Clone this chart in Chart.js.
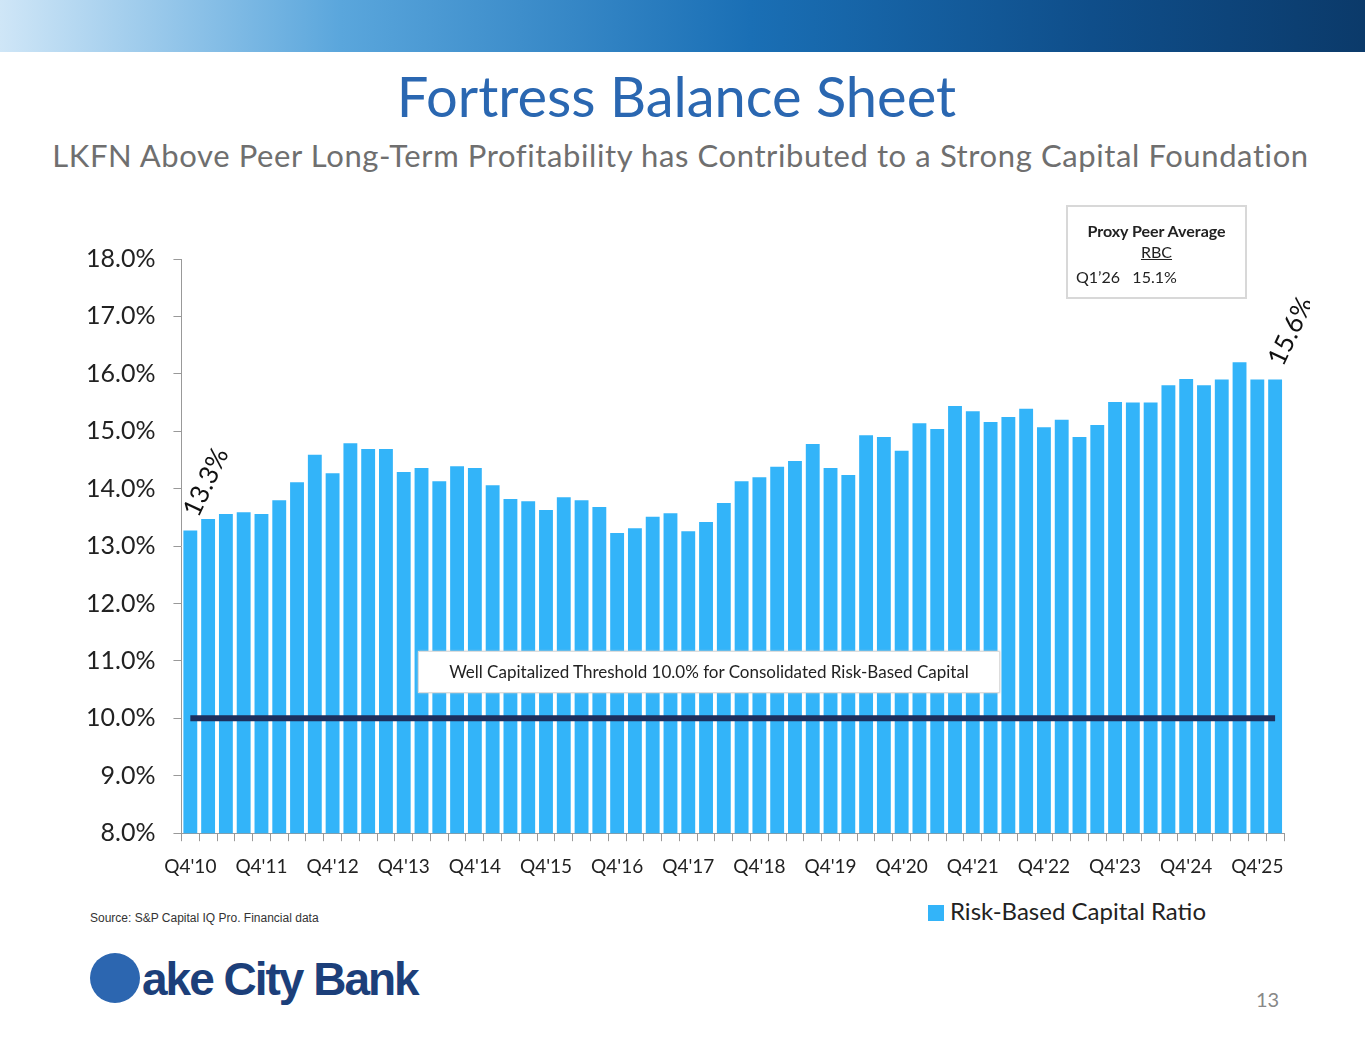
<!DOCTYPE html>
<html><head><meta charset="utf-8">
<script src="https://cdn.jsdelivr.net/npm/chart.js@4"></script>
<style>
body{margin:0;width:1365px;height:1047px;background:#fff;font-family:Lato,"Open Sans",sans-serif;position:relative;overflow:hidden}
.banner{position:absolute;left:0;top:0;width:1365px;height:52px;background:linear-gradient(90deg,#cfe6f7 0%,#5aa6dc 25%,#1a6fb5 55%,#0f4e8a 80%,#0b3a6a 100%)}
.title{position:absolute;top:62px;width:100%;text-align:center;font-size:56px;color:#2a67b1;padding-right:12px;box-sizing:border-box}
.sub{position:absolute;top:136px;width:100%;text-align:center;font-size:31px;color:#6f6f6f;letter-spacing:0.6px;padding-right:4px;box-sizing:border-box}
#wrap{position:absolute;left:68px;top:226px;width:1242px;height:666px}
.peer{position:absolute;left:1066px;top:205px;width:177px;height:90px;border:2px solid #d8d8d8;font-size:16px;color:#222}
.well{position:absolute;left:418px;top:651px;width:580px;height:40px;background:#fff;border:1px solid #ddd;font-size:17px;line-height:40px;text-align:center;color:#222;box-shadow:0 0 2px #ccc}
.src{position:absolute;left:90px;top:911px;font-size:12px;font-family:"Liberation Sans",Arial;color:#333}
.leg{position:absolute;left:928px;top:896px;font-size:24px;color:#222}
.leg span{display:inline-block;width:16px;height:16px;background:#33b4f9;margin-right:6px;vertical-align:-1px}
.logo{position:absolute;left:90px;top:952px;font-size:46px;font-weight:900;color:#1c3f7a;letter-spacing:-2px;font-family:"Liberation Sans",Arial}
.logo i{display:inline-block;width:50px;height:50px;border-radius:50%;background:#2c66b0;vertical-align:-8px;margin-right:2px}
.pg{position:absolute;left:1256px;top:987px;font-size:20px;color:#888}
</style></head><body>
<div class="banner"></div>
<div class="title">Fortress Balance Sheet</div>
<div class="sub">LKFN Above Peer Long-Term Profitability has Contributed to a Strong Capital Foundation</div>
<div id="wrap"><canvas id="c"></canvas></div>
<div class="peer"><div style="text-align:center;font-weight:bold;margin-top:14px">Proxy Peer Average</div><div style="text-align:center;text-decoration:underline;margin-top:2px">RBC</div><div style="margin:6px 0 0 8px">Q1’26&nbsp;&nbsp;&nbsp;15.1%</div></div>
<div class="well">Well Capitalized Threshold 10.0% for Consolidated Risk-Based Capital</div>
<div class="src">Source: S&amp;P Capital IQ Pro. Financial data</div>
<div class="leg"><span></span>Risk-Based Capital Ratio</div>
<div class="logo"><i></i>ake City Bank</div>
<div class="pg">13</div>
<script>
const quarters=[];
const startYear=10;
for(let i=0;i<62;i++){const q=(3+i)%4+1;const y=startYear+Math.floor((3+i)/4);quarters.push("Q"+q+"'"+String(y).padStart(2,'0'));}
const rbcValues=[13.27,13.47,13.56,13.59,13.56,13.80,14.11,14.59,14.27,14.79,14.69,14.69,14.29,14.36,14.13,14.39,14.36,14.06,13.82,13.78,13.63,13.85,13.80,13.68,13.23,13.31,13.51,13.57,13.26,13.42,13.75,14.13,14.20,14.38,14.48,14.78,14.36,14.24,14.93,14.90,14.66,15.14,15.04,15.44,15.35,15.16,15.25,15.39,15.07,15.20,14.90,15.11,15.51,15.50,15.50,15.80,15.91,15.80,15.90,16.20,15.90,15.90];
const threshold=quarters.map(()=>10);
const yTicks=[8,9,10,11,12,13,14,15,16,17,18];
const labelsPlugin={id:'lbl',afterDatasetsDraw(ch){
 const m=ch.getDatasetMeta(0),ctx=ch.ctx;ctx.save();ctx.font='26px Lato';ctx.fillStyle='#111';
 [[0,'13.3%'],[61,'15.6%']].forEach(([i,t])=>{const b=m.data[i];ctx.save();ctx.translate(b.x+8,b.y-12);ctx.rotate(-Math.PI*0.36);ctx.fillText(t,0,0);ctx.restore();});
 ctx.restore();}};
new Chart(document.getElementById('c'),{
 data:{labels:quarters,datasets:[
  {type:'bar',label:'Risk-Based Capital Ratio',data:rbcValues,backgroundColor:'#33b4f9',categoryPercentage:0.78,barPercentage:1,order:2},
  {type:'line',label:'Threshold',data:threshold,borderColor:'#1c2f5e',borderWidth:6,pointRadius:0,order:1}
 ]},
 options:{responsive:true,maintainAspectRatio:false,animation:false,
  layout:{padding:{top:29,right:26,left:0,bottom:0}},
  plugins:{legend:{display:false},tooltip:{enabled:false}},
  scales:{
   x:{grid:{display:true,drawOnChartArea:false,offset:true,tickLength:8,color:'#999'},border:{color:'#999'},
    ticks:{autoSkip:false,maxRotation:0,font:{size:19,family:'Lato'},color:'#222',padding:14,callback:(v,i)=>i%4===0?quarters[i]:''}},
   y:{min:8,max:18,afterBuildTicks:a=>{a.ticks=yTicks.map(v=>({value:v}));},grid:{drawOnChartArea:false,tickLength:8,color:'#999'},border:{color:'#999'},
    ticks:{font:{size:25,family:'Lato'},color:'#222',padding:18,callback:v=>v.toFixed(1)+'%'}}
  }},
 plugins:[labelsPlugin]
});
</script>
</body></html>
